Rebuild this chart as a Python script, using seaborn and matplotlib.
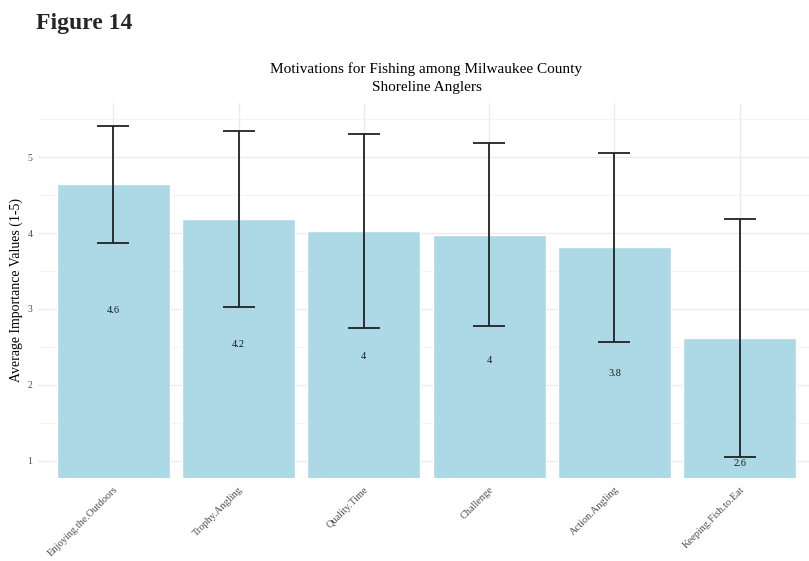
import matplotlib
matplotlib.use("Agg")
import matplotlib.pyplot as plt
import seaborn as sns
import pandas as pd
from matplotlib.ticker import MultipleLocator

# values
motivations = ["Enjoying.the.Outdoors", "Trophy.Angling", "Quality.Time",
               "Challenge", "Action.Angling", "Keeping.Fish.to.Eat"]
mean_values = [4.64, 4.19, 4.03, 3.98, 3.81, 2.62]
sd_values = [0.77, 1.16, 1.28, 1.21, 1.24, 1.57]
label_text = ["4.6", "4.2", "4", "4", "3.8", "2.6"]

df = pd.DataFrame({"Motivation": motivations, "Mean": mean_values, "SD": sd_values})

sns.set_theme(style="whitegrid")
plt.rcParams["font.family"] = ["Liberation Serif", "DejaVu Serif"]

fig = plt.figure(figsize=(8.09, 5.61), dpi=100)
# panel runs a little past the right edge, as in the reference
ax = fig.add_axes([38 / 809, 1 - 478 / 561, 777 / 809, 375 / 561])

sns.barplot(data=df, x="Motivation", y="Mean", color="#ADD8E6", width=0.9,
            saturation=1, ax=ax, zorder=2)
ax.errorbar(range(len(df)), df["Mean"], yerr=df["SD"], fmt="none",
            ecolor="#222222", elinewidth=1.3, capsize=11.2, capthick=1.3, zorder=3)

# labels sit well below the bar tops
for i, (m, t) in enumerate(zip(df["Mean"], label_text)):
    ax.text(i, m - 1.66, t, ha="center", va="center", fontsize=7.5,
            color="#1a1a1a", zorder=4)

ax.set_xlim(-0.6, 5.6)
ax.set_ylim(0.772, 5.713)
ax.yaxis.set_major_locator(MultipleLocator(1))
ax.yaxis.set_minor_locator(MultipleLocator(0.5))
ax.grid(which="major", color="#EBEBEB", linewidth=1.0, zorder=0)
ax.grid(which="minor", axis="y", color="#F3F3F3", linewidth=0.6, zorder=0)
ax.set_axisbelow(True)
for s in ax.spines.values():
    s.set_visible(False)
ax.tick_params(axis="y", length=0, colors="#4D4D4D", labelsize=7, pad=4)
ax.tick_params(axis="x", length=0, colors="#4D4D4D", labelsize=7.5, pad=5)
plt.setp(ax.get_xticklabels(), rotation=45, ha="right", rotation_mode="anchor")
ax.set_xlabel("")
ax.set_ylabel("Average Importance Values (1-5)", fontsize=10, color="black", labelpad=3)

ax.set_title("Motivations for Fishing among Milwaukee County\nShoreline Anglers",
             fontsize=11, color="black", pad=9, linespacing=1.45)
fig.text(36 / 809, 1 - 29 / 561, "Figure 14", fontsize=17, fontweight="bold",
         ha="left", va="baseline")

fig.savefig("out.png", dpi=100)
